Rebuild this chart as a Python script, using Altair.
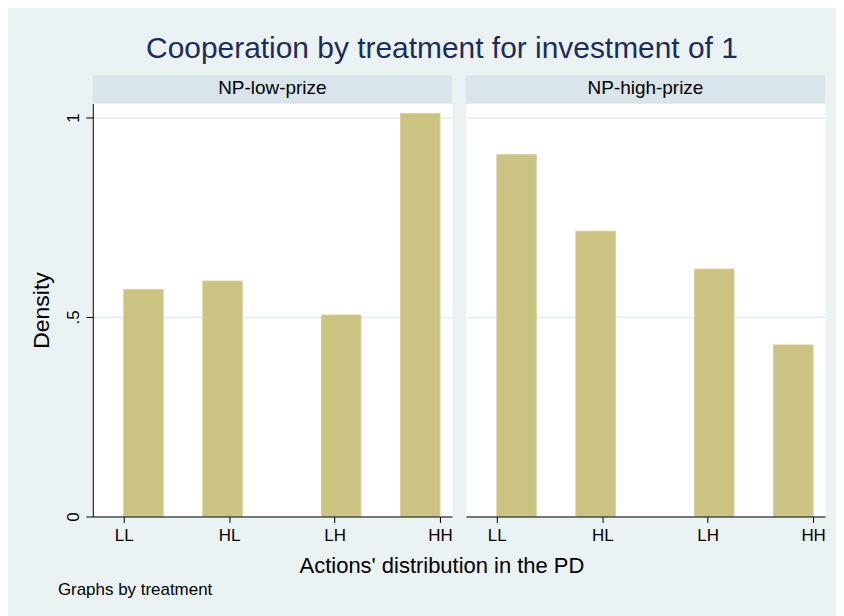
import altair as alt
import pandas as pd

# ---- data ----
treatments = ["NP-low-prize", "NP-high-prize"]
action_labels = ["LL", "HL", "LH", "HH"]
action_values = [1, 2, 3, 4]
bin_start = [1.0, 1.75, 2.875, 3.625]
bin_end = [1.375, 2.125, 3.25, 4.0]
density_low = [0.569, 0.590, 0.505, 1.010]
density_high = [0.907, 0.715, 0.620, 0.430]
y_tick_values = [0, 0.5, 1]
y_tick_labels = ["0", ".5", "1"]

title_text = "Cooperation by treatment for investment of 1"
x_title = "Actions' distribution in the PD"
y_title = "Density"
note_text = "Graphs by treatment"

# ---- styling ----
FONT = "Liberation Sans"
BG = "#EAF2F3"
STRIP = "#D9E5EA"
BAR = "#CAC381"
EDGE = "#D6D19C"
GRID = "#E4EDEF"
TITLE_COLOR = "#1E2C58"
W, H = 360, 414
XDOM = [0.707, 4.113]
YDOM = [0, 1.035]


def label_expr(values, labels):
    expr = "'" + labels[-1] + "'"
    for v, l in reversed(list(zip(values[:-1], labels[:-1]))):
        expr = f"datum.value == {v} ? '{l}' : " + expr
    return expr


x_expr = label_expr(action_values, action_labels)
y_expr = label_expr(y_tick_values, y_tick_labels)


def panel(treat, dens, left):
    df = pd.DataFrame({"start": bin_start, "end": bin_end, "density": dens})
    one = pd.DataFrame({"label": [treat]})

    xaxis = alt.Axis(
        values=action_values, labelExpr=x_expr, title=None, grid=False,
        domainColor="black", domainWidth=1, tickColor="black", tickSize=6,
        labelPadding=18.5, labelBaseline="alphabetic", labelFontSize=17,
        labelColor="black", labelFont=FONT, labelFlush=False,
        labelOverlap=False, zindex=1,
    )
    if left:
        yaxis = alt.Axis(
            values=y_tick_values, labelExpr=y_expr, title=y_title,
            grid=True, gridColor=GRID, gridWidth=1.5,
            domainColor="black", domainWidth=1, tickColor="black", tickSize=7,
            labelAngle=270, labelAlign="center", labelBaseline="alphabetic",
            labelPadding=7, labelFontSize=17, labelColor="black", labelFont=FONT,
            titleFont=FONT, titleFontSize=23, titleFontWeight="normal",
            titleColor="black", titleAngle=270, titleAlign="center",
            titleBaseline="alphabetic", titleX=-44, titleY=H / 2,
        )
    else:
        yaxis = alt.Axis(
            values=y_tick_values, labels=False, ticks=False, domain=False,
            title=None, grid=True, gridColor=GRID, gridWidth=1.5,
        )

    frame = alt.Chart(one).mark_rect(opacity=0).encode(
        x=alt.value(-84 if left else 0), x2=alt.value(W if left else W + 10),
        y=alt.value(-94), y2=alt.value(513),
    )
    strip = alt.Chart(one).mark_rect(color=STRIP).encode(
        x=alt.value(0), x2=alt.value(W), y=alt.value(-28), y2=alt.value(0)
    )
    strip_text = alt.Chart(one).mark_text(
        font=FONT, fontSize=19, color="black", align="center", baseline="alphabetic"
    ).encode(x=alt.value(W / 2), y=alt.value(-9.3), text="label:N")

    bars = alt.Chart(df).mark_rect(color=BAR, stroke=EDGE, strokeWidth=1).encode(
        x=alt.X("start:Q", scale=alt.Scale(domain=XDOM, nice=False, zero=False), axis=xaxis),
        x2="end:Q",
        y=alt.Y("density:Q", scale=alt.Scale(domain=YDOM, nice=False), axis=yaxis),
        y2=alt.datum(0),
    )
    layers = [frame, strip, strip_text, bars]

    if left:
        t = pd.DataFrame({"label": [title_text]})
        xt = pd.DataFrame({"label": [x_title]})
        nt = pd.DataFrame({"label": [note_text]})
        layers.append(alt.Chart(t).mark_text(
            font=FONT, fontSize=30, color=TITLE_COLOR, align="center", baseline="alphabetic"
        ).encode(x=alt.value(350), y=alt.value(-45.3), text="label:N"))
        layers.append(alt.Chart(xt).mark_text(
            font=FONT, fontSize=22, color="black", align="center", baseline="alphabetic"
        ).encode(x=alt.value(350), y=alt.value(470.3), text="label:N"))
        layers.append(alt.Chart(nt).mark_text(
            font=FONT, fontSize=17, color="black", align="left", baseline="alphabetic"
        ).encode(x=alt.value(-35), y=alt.value(492.3), text="label:N"))

    return alt.layer(*layers).properties(width=W, height=H)


chart = alt.hconcat(
    panel(treatments[0], density_low, True),
    panel(treatments[1], density_high, False),
    spacing=14,
    bounds="flush",
).configure(
    background=BG, padding=0, font=FONT
).configure_view(
    fill="white", stroke="transparent"
)

chart.save("out.html", embed_options={"renderer": "svg", "actions": False})
